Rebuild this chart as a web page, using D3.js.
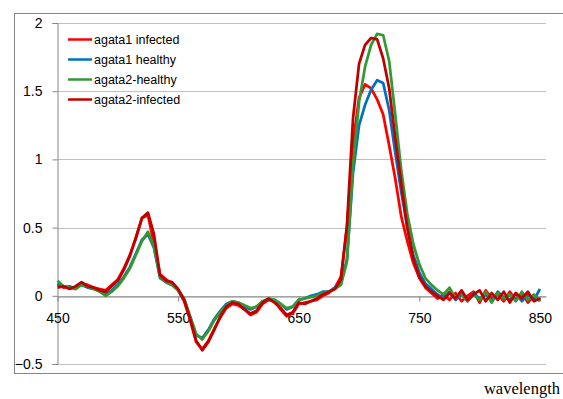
<!DOCTYPE html>
<html>
<head>
<meta charset="utf-8">
<script src="https://cdn.jsdelivr.net/npm/d3@7"></script>
<style>
  body { margin: 0; background: #fff; }
  svg { display: block; }
</style>
</head>
<body>
<svg id="chart" width="563" height="399"></svg>
<script>
// wavelengths, 450..850 every 5 nm
const wavelengths = d3.range(450, 851, 5)

const seriesNames = ['agata1 infected', 'agata1 healthy', 'agata2-healthy', 'agata2-infected']
const seriesColors = ['#ff0000', '#0070c0', '#339933', '#c00000']

const agata1Infected = [
  0.08, 0.06, 0.07, 0.05, 0.09, 0.08, 0.06, 0.05, 0.04, 0.08,
  0.12, 0.20, 0.30, 0.42, 0.57, 0.59, 0.38, 0.16, 0.12, 0.09,
  0.04, -0.04, -0.18, -0.34, -0.39, -0.33, -0.24, -0.16, -0.09, -0.06,
  -0.07, -0.10, -0.14, -0.12, -0.06, -0.03, -0.04, -0.10, -0.15, -0.13,
  -0.06, -0.05, -0.04, -0.03, 0.00, 0.02, 0.06, 0.14, 0.50, 1.12,
  1.45, 1.55, 1.52, 1.44, 1.33, 1.10, 0.86, 0.58, 0.40, 0.24,
  0.13, 0.06, 0.02, -0.02, 0.01, -0.03, 0.02, -0.04, 0.00, 0.03,
  -0.05, 0.04, -0.02, 0.01, -0.04, 0.03, -0.03, 0.02, -0.05, 0.00,
  -0.03
]

const agata1Healthy = [
  0.09, 0.07, 0.06, 0.06, 0.08, 0.06, 0.05, 0.04, 0.01, 0.04,
  0.08, 0.14, 0.21, 0.31, 0.41, 0.45, 0.35, 0.13, 0.10, 0.08,
  0.04, -0.03, -0.16, -0.29, -0.31, -0.25, -0.17, -0.11, -0.06, -0.04,
  -0.05, -0.08, -0.10, -0.08, -0.04, -0.03, -0.03, -0.06, -0.10, -0.08,
  -0.03, -0.02, 0.00, 0.01, 0.03, 0.03, 0.06, 0.09, 0.27, 0.90,
  1.25, 1.40, 1.51, 1.58, 1.56, 1.36, 1.05, 0.76, 0.50, 0.30,
  0.17, 0.09, 0.05, 0.01, -0.02, 0.03, -0.03, 0.01, -0.04, 0.02,
  -0.02, 0.01, -0.04, 0.03, -0.01, -0.03, 0.02, -0.04, 0.01, -0.03,
  0.05
]

const agata2Healthy = [
  0.11, 0.07, 0.06, 0.05, 0.08, 0.07, 0.05, 0.03, 0.00, 0.03,
  0.07, 0.13, 0.20, 0.30, 0.40, 0.47, 0.36, 0.14, 0.10, 0.08,
  0.04, -0.02, -0.15, -0.28, -0.32, -0.26, -0.18, -0.12, -0.07, -0.04,
  -0.05, -0.07, -0.09, -0.08, -0.04, -0.02, -0.03, -0.06, -0.09, -0.08,
  -0.03, -0.02, -0.01, 0.00, 0.02, 0.03, 0.05, 0.08, 0.25, 0.95,
  1.42, 1.68, 1.84, 1.92, 1.91, 1.72, 1.33, 0.92, 0.60, 0.38,
  0.23, 0.13, 0.08, 0.04, 0.01, 0.06, -0.02, 0.02, -0.04, 0.01,
  -0.03, 0.03, -0.05, 0.02, -0.02, 0.01, -0.04, 0.03, -0.03, 0.01,
  -0.04
]

const agata2Infected = [
  0.06, 0.07, 0.05, 0.07, 0.10, 0.07, 0.06, 0.04, 0.03, 0.07,
  0.11, 0.19, 0.29, 0.43, 0.57, 0.61, 0.45, 0.15, 0.11, 0.10,
  0.05, -0.03, -0.17, -0.33, -0.40, -0.34, -0.25, -0.15, -0.08, -0.05,
  -0.06, -0.10, -0.13, -0.11, -0.05, -0.02, -0.05, -0.09, -0.14, -0.12,
  -0.05, -0.06, -0.04, -0.02, 0.01, 0.03, 0.05, 0.12, 0.52, 1.30,
  1.70, 1.84, 1.89, 1.88, 1.74, 1.52, 1.16, 0.82, 0.50, 0.27,
  0.14, 0.07, 0.03, 0.00, -0.03, 0.02, -0.02, 0.04, -0.03, 0.01,
  0.04, -0.04, 0.02, -0.03, 0.03, -0.05, 0.02, -0.02, 0.03, -0.04,
  -0.02
]

const seriesValues = [agata1Infected, agata1Healthy, agata2Healthy, agata2Infected]

const xTicks = [450, 550, 650, 750, 850]
const yTicks = [-0.5, 0, 0.5, 1, 1.5, 2]

let svg = d3.select('#chart')

let x = d3.scaleLinear().domain([450, 855]).range([57.5, 546])
let y = d3.scaleLinear().domain([-0.5, 2]).range([364, 23])

// chart border
svg.append('rect')
  .attr('x', 14.5).attr('y', 13.5)
  .attr('width', 600).attr('height', 360)
  .attr('fill', 'none')
  .attr('stroke', '#868686')
  .attr('stroke-width', 1)

// horizontal gridlines
svg.append('g')
  .selectAll('line')
  .data(yTicks)
  .enter()
  .append('line')
  .attr('x1', x.range()[0]).attr('x2', x.range()[1])
  .attr('y1', d => Math.round(y(d)) + 0.5)
  .attr('y2', d => Math.round(y(d)) + 0.5)
  .attr('stroke', '#c0c0c0')
  .attr('stroke-width', 1)

// y axis
let yAxis = svg.append('g')
  .attr('transform', 'translate(' + x.range()[0] + ',0)')
  .call(d3.axisLeft(y).tickValues(yTicks).tickSize(5).tickPadding(10).tickFormat(d3.format('')))
yAxis.select('.domain').attr('stroke', '#868686')
yAxis.selectAll('.tick line').attr('stroke', '#868686')
yAxis.selectAll('text')
  .attr('font-family', 'Liberation Sans, Arial, sans-serif')
  .attr('font-size', 14)
  .attr('fill', '#000')

// x axis crossing at zero
let xAxis = svg.append('g')
  .attr('transform', 'translate(0,' + (Math.round(y(0)) + 0.5) + ')')
  .call(d3.axisBottom(x).tickValues(xTicks).tickSize(5).tickPadding(12).tickSizeOuter(0))
xAxis.select('.domain').attr('stroke', '#868686')
xAxis.selectAll('.tick line').attr('stroke', '#868686')
xAxis.selectAll('text')
  .attr('font-family', 'Liberation Sans, Arial, sans-serif')
  .attr('font-size', 14)
  .attr('fill', '#000')

// spectra
let line = d3.line()
  .x((d, i) => x(wavelengths[i]))
  .y(d => y(d))

svg.append('g')
  .selectAll('path')
  .data(seriesValues)
  .enter()
  .append('path')
  .attr('d', d => line(d))
  .attr('fill', 'none')
  .attr('stroke', (d, i) => seriesColors[i])
  .attr('stroke-width', 2.75)
  .attr('stroke-linejoin', 'round')

// legend
let legend = svg.append('g')
  .selectAll('g')
  .data(seriesNames)
  .enter()
  .append('g')
  .attr('transform', (d, i) => 'translate(68,' + (39.5 + i * 20) + ')')

legend.append('line')
  .attr('x1', 0).attr('x2', 24)
  .attr('stroke', (d, i) => seriesColors[i])
  .attr('stroke-width', 2.5)

legend.append('text')
  .attr('x', 26)
  .attr('dy', '0.35em')
  .attr('font-family', 'Liberation Sans, Arial, sans-serif')
  .attr('font-size', 12.5)
  .text(d => d)

// axis title, bottom right corner
svg.append('text')
  .attr('x', 560)
  .attr('y', 394)
  .attr('text-anchor', 'end')
  .attr('font-family', 'Liberation Serif, DejaVu Serif, serif')
  .attr('font-size', 16.5)
  .text('wavelength')
</script>
</body>
</html>
